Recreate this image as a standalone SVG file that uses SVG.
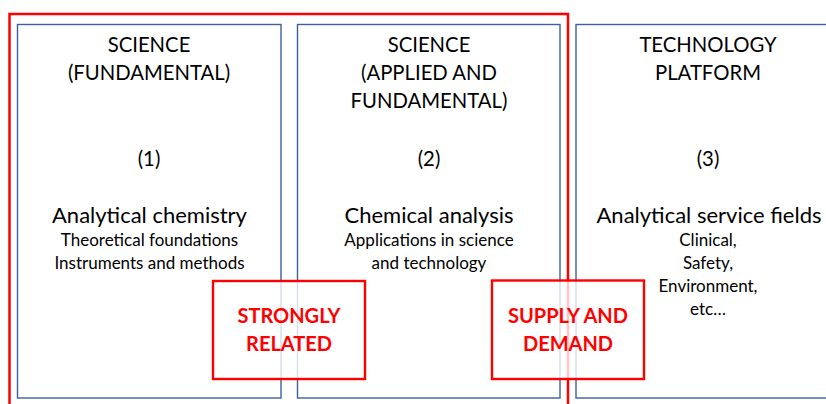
<svg xmlns="http://www.w3.org/2000/svg" width="826" height="404" viewBox="0 0 826 404">
<style>
.box{fill:none;stroke:#3C5FA0;stroke-width:1.4}
.frame{fill:none;stroke:#FF0000;stroke-width:2.5}
.tag{fill:#FFFFFF;fill-opacity:0.78;stroke:#FF0000;stroke-width:2.4}
text{font-family:Lato,"Liberation Sans",sans-serif;text-anchor:middle;fill:#000}
.h{font-size:20.3px}
.m{font-size:22px}
.s{font-size:17px}
.r{font-size:20px;font-weight:bold;fill:#FF0000}
</style>
<rect width="826" height="404" fill="#FFFFFF"/>
<g id="science-fundamental">
<rect class="box" x="17.5" y="24.5" width="263.5" height="373.5"/>
<text class="h" x="149" y="51.5">SCIENCE</text>
<text class="h" x="149" y="79.5">(FUNDAMENTAL)</text>
<text class="h" x="149" y="166">(1)</text>
<text class="m" x="149.5" y="222.5">Analytical chemistry</text>
<text class="s" x="149.5" y="245.5">Theoretical foundations</text>
<text class="s" x="149.5" y="268.5">Instruments and methods</text>
</g>
<g id="science-applied">
<rect class="box" x="297.5" y="24.5" width="262.5" height="373.5"/>
<text class="h" x="429" y="51.5">SCIENCE</text>
<text class="h" x="429" y="79.5">(APPLIED AND</text>
<text class="h" x="429" y="107.5">FUNDAMENTAL)</text>
<text class="h" x="429" y="166">(2)</text>
<text class="m" x="429" y="222.5">Chemical analysis</text>
<text class="s" x="429" y="245.5">Applications in science</text>
<text class="s" x="429" y="268.5">and technology</text>
</g>
<g id="technology-platform">
<rect class="box" x="576" y="24.5" width="260" height="373.5"/>
<text class="h" x="708" y="51.5">TECHNOLOGY</text>
<text class="h" x="708" y="79.5">PLATFORM</text>
<text class="h" x="708" y="166">(3)</text>
<text class="m" x="709" y="222.5">Analytical service fields</text>
<text class="s" x="708" y="245.5">Clinical,</text>
<text class="s" x="708" y="268.5">Safety,</text>
<text class="s" x="708" y="291.5">Environment,</text>
<text class="s" x="708" y="314.5">etc…</text>
</g>
<g id="science-frame">
<rect class="frame" x="9.5" y="14" width="558.5" height="400"/>
</g>
<g id="strongly-related">
<rect class="tag" x="213" y="281" width="152" height="98"/>
<text class="r" x="289" y="323">STRONGLY</text>
<text class="r" x="289" y="351">RELATED</text>
</g>
<g id="supply-demand">
<rect class="tag" x="492" y="280.5" width="152" height="98.5"/>
<text class="r" x="568" y="323">SUPPLY AND</text>
<text class="r" x="568" y="351">DEMAND</text>
</g>
</svg>
